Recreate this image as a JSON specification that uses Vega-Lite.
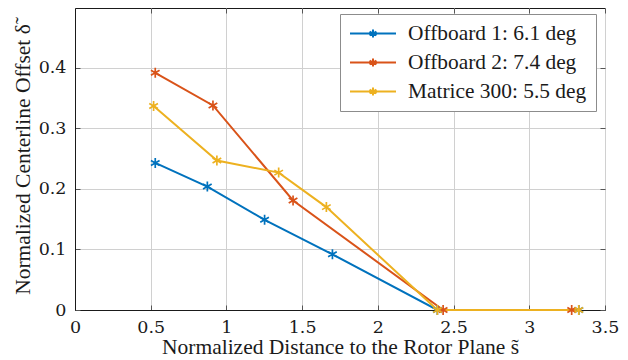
{
  "$schema": "https://vega.github.io/schema/vega-lite/v6.json",
  "width": 530,
  "height": 302,
  "autosize": {"type": "none"},
  "padding": {"left": 75, "top": 8, "right": 23, "bottom": 50},
  "background": "white",
  "config": {
    "font": "Liberation Serif",
    "view": {"stroke": "#1a1a1a", "strokeWidth": 1},
    "axis": {
      "labelFont": "DejaVu Serif",
      "labelFontSize": 17.5,
      "labelColor": "#1a1a1a",
      "titleFont": "Liberation Serif",
      "titleFontSize": 21.5,
      "titleFontWeight": "normal",
      "titleColor": "#1a1a1a",
      "gridColor": "#d0d0d0",
      "gridWidth": 1,
      "domainColor": "#1a1a1a",
      "tickColor": "#555555",
      "tickSize": -5,
      "tickWidth": 1
    },
    "legend": {
      "labelFont": "Liberation Serif",
      "labelFontSize": 21.4,
      "labelColor": "#1a1a1a",
      "labelLimit": 400
    }
  },
  "data": {
    "values": [
      {"series": "Offboard 1: 6.1 deg", "s": 0.53, "d": 0.243},
      {"series": "Offboard 1: 6.1 deg", "s": 0.874, "d": 0.204},
      {"series": "Offboard 1: 6.1 deg", "s": 1.252, "d": 0.149},
      {"series": "Offboard 1: 6.1 deg", "s": 1.70, "d": 0.092},
      {"series": "Offboard 1: 6.1 deg", "s": 2.393, "d": 0},
      {"series": "Offboard 1: 6.1 deg", "s": 3.327, "d": 0},
      {"series": "Offboard 2: 7.4 deg", "s": 0.53, "d": 0.392},
      {"series": "Offboard 2: 7.4 deg", "s": 0.911, "d": 0.338},
      {"series": "Offboard 2: 7.4 deg", "s": 1.44, "d": 0.181},
      {"series": "Offboard 2: 7.4 deg", "s": 2.431, "d": 0},
      {"series": "Offboard 2: 7.4 deg", "s": 3.28, "d": 0},
      {"series": "Matrice 300: 5.5 deg", "s": 0.519, "d": 0.337},
      {"series": "Matrice 300: 5.5 deg", "s": 0.937, "d": 0.247},
      {"series": "Matrice 300: 5.5 deg", "s": 1.345, "d": 0.227},
      {"series": "Matrice 300: 5.5 deg", "s": 1.66, "d": 0.170},
      {"series": "Matrice 300: 5.5 deg", "s": 2.393, "d": 0},
      {"series": "Matrice 300: 5.5 deg", "s": 3.327, "d": 0}
    ]
  },
  "encoding": {
    "x": {
      "field": "s",
      "type": "quantitative",
      "scale": {"domain": [0, 3.5], "nice": false, "zero": false},
      "axis": {
        "title": "Normalized Distance to the Rotor Plane s\u0303",
        "values": [0, 0.5, 1, 1.5, 2, 2.5, 3, 3.5],
        "format": "~g",
        "labelPadding": 13,
        "labelFlush": false,
        "titlePadding": 1
      }
    },
    "y": {
      "field": "d",
      "type": "quantitative",
      "scale": {"domain": [0, 0.499], "nice": false, "zero": false},
      "axis": {
        "title": "Normalized Centerline Offset \u03b4\u0303",
        "values": [0, 0.1, 0.2, 0.3, 0.4],
        "format": "~g",
        "labelPadding": 14,
        "labelFlush": false,
        "titlePadding": 4
      }
    },
    "color": {
      "field": "series",
      "type": "nominal",
      "sort": null,
      "scale": {
        "domain": ["Offboard 1: 6.1 deg", "Offboard 2: 7.4 deg", "Matrice 300: 5.5 deg"],
        "range": ["#0072BD", "#D95319", "#EDB120"]
      },
      "legend": {
        "title": null,
        "orient": "none",
        "legendX": 265,
        "legendY": 6,
        "fillColor": "white",
        "strokeColor": "#8c8c8c",
        "padding": 9,
        "rowPadding": 7,
        "clipHeight": 21,
        "symbolType": "M-1,0L1,0M0,-0.17L0,0.17M-0.15,-0.085L0.15,0.085M-0.15,0.085L0.15,-0.085",
        "symbolSize": 2116,
        "symbolStrokeWidth": 2,
        "symbolFillColor": "transparent",
        "labelOffset": 11
      }
    }
  },
  "layer": [
    {
      "mark": {"type": "line", "strokeWidth": 2},
      "encoding": {"order": {"field": "s", "type": "quantitative"}}
    },
    {
      "mark": {
        "type": "point",
        "filled": false,
        "shape": "M0,-1L0,1M-0.866,-0.5L0.866,0.5M-0.866,0.5L0.866,-0.5",
        "size": 100,
        "strokeWidth": 1.7,
        "opacity": 1
      },
      "encoding": {
        "x": {
          "field": "s",
          "type": "quantitative",
          "axis": {"orient": "top", "labels": false, "title": null, "grid": false, "domain": false, "values": [0, 0.5, 1, 1.5, 2, 2.5, 3, 3.5]}
        },
        "y": {
          "field": "d",
          "type": "quantitative",
          "axis": {"orient": "right", "labels": false, "title": null, "grid": false, "domain": false, "values": [0, 0.1, 0.2, 0.3, 0.4]}
        }
      }
    }
  ],
  "resolve": {"axis": {"x": "independent", "y": "independent"}}
}
